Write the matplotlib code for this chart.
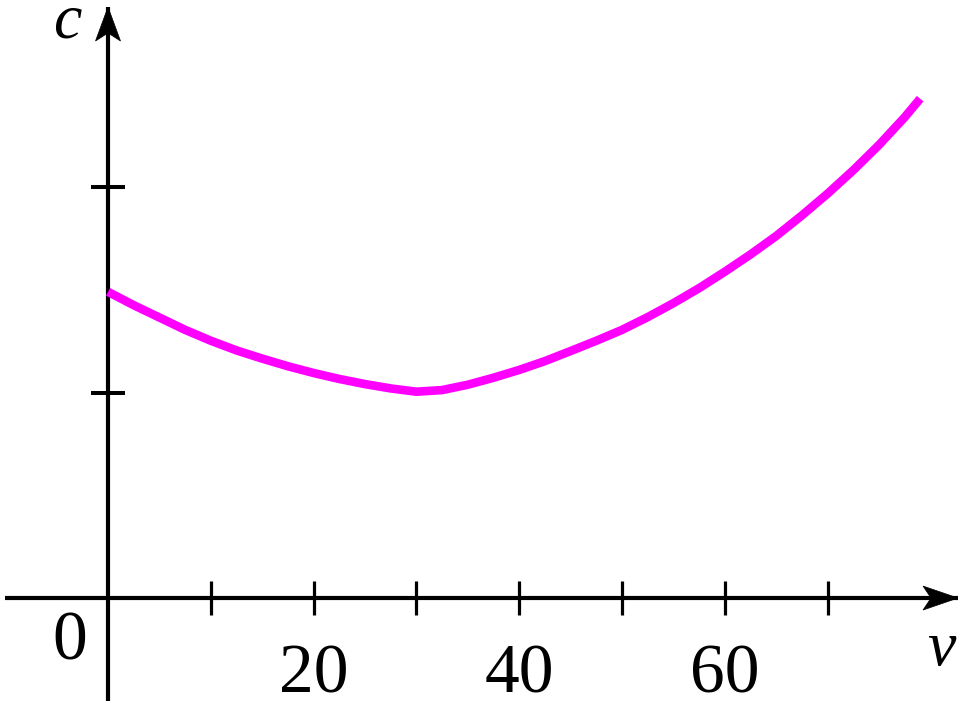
import matplotlib
matplotlib.use("Agg")
import matplotlib.pyplot as plt
from matplotlib.patches import Polygon
from matplotlib.transforms import IdentityTransform

# ---- data ----
speed_v = [0, 2.5, 5, 7.5, 10, 12.5, 15, 17.5, 20, 22.5, 25, 27.5, 30,
           32.5, 35, 37.5, 40, 42.5, 45, 47.5, 50, 52.5, 55, 57.5, 60,
           62.5, 65, 67.5, 70, 72.5, 75, 77.5, 79]
cost_c = [1.49, 1.425, 1.365, 1.305, 1.252, 1.205, 1.165, 1.128, 1.095,
          1.066, 1.041, 1.02, 1.004, 1.012, 1.038, 1.072, 1.11, 1.153,
          1.202, 1.252, 1.305, 1.367, 1.435, 1.508, 1.588, 1.672, 1.762,
          1.862, 1.968, 2.082, 2.205, 2.34, 2.43]
x_major_ticks = [20, 40, 60]
x_major_labels = ["20", "40", "60"]
x_minor_ticks = [10, 30, 50, 70]
y_ticks = [1, 2]

W, H = 960, 703
fig = plt.figure(figsize=(W / 100, H / 100), dpi=100)
# axes rectangle in pixels: x 5..958, y 7..701 (from top)
ax = fig.add_axes([5 / W, (H - 701) / H, (958 - 5) / W, (701 - 7) / H])
ax.set_xlim(-10.02, 82.68)
ax.set_ylim(-0.501, 2.876)
ax.patch.set_alpha(0)

serif = ["Liberation Serif", "DejaVu Serif"]

for s in ["top", "right"]:
    ax.spines[s].set_visible(False)
ax.spines["left"].set_position(("data", 0))
ax.spines["bottom"].set_position(("data", 0))
for s in ["left", "bottom"]:
    ax.spines[s].set_linewidth(3)
    ax.spines[s].set_capstyle("butt")

ax.plot(speed_v, cost_c, color="#FF00FF", lw=6.2, solid_capstyle="butt",
        solid_joinstyle="round", zorder=3)

ax.set_xticks(x_major_ticks)
ax.set_xticklabels(x_major_labels, fontfamily=serif, fontsize=50)
ax.set_xticks(x_minor_ticks, minor=True)
ax.tick_params(axis="x", which="both", direction="inout", length=24.5,
               width=2.3, pad=21)
ax.set_yticks(y_ticks)
ax.set_yticklabels([])
ax.tick_params(axis="y", which="both", direction="inout", length=25,
               width=2.9)

# axis labels and origin
fig.text(67 / W, 1 - 22 / H, "c", fontfamily=serif, style="italic",
         fontsize=46, ha="center", va="center")
fig.text(941 / W, 1 - 650 / H, "v", fontfamily=serif, style="italic",
         fontsize=46, ha="center", va="center")
fig.text(70 / W, 1 - 643 / H, "0", fontfamily=serif, fontsize=50,
         ha="center", va="center")

# arrowheads (stealth style) at the ends of the axes
fig.canvas.draw()
tx, ty = ax.transData.transform((ax.get_xlim()[1], 0))
xarrow = Polygon([(tx, ty), (tx - 35, ty + 12), (tx - 27, ty), (tx - 35, ty - 12)],
                 closed=True, facecolor="black", edgecolor="black", lw=0.5,
                 transform=IdentityTransform(), zorder=4)
ax.add_artist(xarrow)
ux, uy = ax.transData.transform((0, ax.get_ylim()[1]))
yarrow = Polygon([(ux, uy), (ux - 12.5, uy - 34), (ux, uy - 26), (ux + 12.5, uy - 34)],
                 closed=True, facecolor="black", edgecolor="black", lw=0.5,
                 transform=IdentityTransform(), zorder=4)
ax.add_artist(yarrow)

fig.savefig("out.png", dpi=100, facecolor="white")
